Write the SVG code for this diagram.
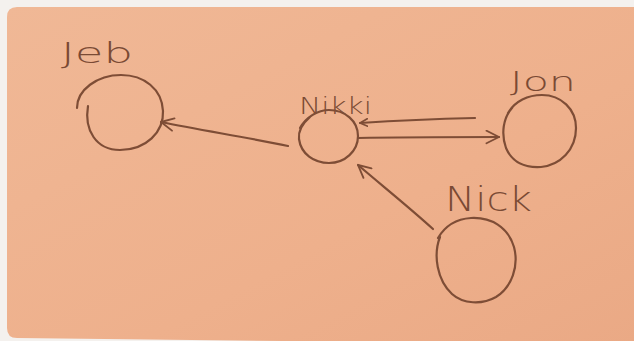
<svg xmlns="http://www.w3.org/2000/svg" width="634" height="341" viewBox="0 0 634 341">
  <defs>
    <linearGradient id="paper" x1="0" y1="0" x2="1" y2="1">
      <stop offset="0" stop-color="#f0b896"/>
      <stop offset="0.6" stop-color="#eeb08c"/>
      <stop offset="1" stop-color="#eaa985"/>
    </linearGradient>
    <marker id="head" viewBox="0 0 12 12" refX="11" refY="6" markerWidth="15" markerHeight="15" markerUnits="userSpaceOnUse" orient="auto-start-reverse">
      <path d="M1,1 L11,6 L1,11" fill="none" stroke="#7e4d36" stroke-width="1.5" stroke-linecap="round" stroke-linejoin="round"/>
    </marker>
    <marker id="headSmall" viewBox="0 0 12 12" refX="11" refY="6" markerWidth="9" markerHeight="9" markerUnits="userSpaceOnUse" orient="auto-start-reverse">
      <path d="M1,1 L11,6 L1,11" fill="none" stroke="#7e4d36" stroke-width="2.2" stroke-linecap="round" stroke-linejoin="round"/>
    </marker>
  </defs>
  <style>
    .ink { fill: none; stroke: #7e4d36; stroke-width: 2.2; stroke-linecap: round; stroke-linejoin: round; }
    .label { font-family: "DejaVu Sans", "Liberation Sans", sans-serif; font-weight: 200; fill: #7a4a34; }
  </style>

  <!-- background and sheet of paper -->
  <rect x="0" y="0" width="634" height="341" fill="#f4f1ee"/>
  <path d="M17,7 H640 V345 L17,338 Q7,338 7,328 V17 Q7,7 17,7 Z" fill="url(#paper)"/>

  <g id="node-jeb">
    <text class="label" x="61" y="63" font-size="29" textLength="72" lengthAdjust="spacingAndGlyphs">Jeb</text>
    <path class="ink" d="M88,106 C84,130 96,150 120,150 C146,150 164,132 163,111 C162,89 144,75 121,75 C97,75 77,90 77,108"/>
  </g>

  <g id="node-nikki">
    <text class="label" x="299" y="114" font-size="23" font-weight="300" textLength="73" lengthAdjust="spacingAndGlyphs">Nikki</text>
    <path class="ink" d="M310,117 C302,124 298,131 299,139 C301,154 314,163 329,163 C345,163 358,151 358,136 C358,121 345,110 329,110 C318,110 306,117 300,128"/>
  </g>

  <g id="node-jon">
    <text class="label" x="510" y="91" font-size="27" textLength="66" lengthAdjust="spacingAndGlyphs">Jon</text>
    <path class="ink" d="M512,108 C503,118 501,134 506,148 C512,162 525,168 541,167 C560,165 576,150 576,128 C576,109 561,95 542,95 C528,95 515,101 508,113"/>
  </g>

  <g id="node-nick">
    <text class="label" x="445" y="211" font-size="33" textLength="87" lengthAdjust="spacingAndGlyphs">Nick</text>
    <path class="ink" d="M440,237 C433,255 437,280 452,294 C463,304 482,305 496,297 C512,287 519,266 514,247 C508,227 491,217 471,218 C456,219 445,226 438,238"/>
  </g>

  <g id="connectors">
    <!-- Nikki to Jeb -->
    <path class="ink" d="M288,146 C250,138 200,130 161,122" marker-end="url(#head)"/>
    <!-- Jon to Nikki (upper line) -->
    <path class="ink" d="M475,118 C430,119 390,121 360,123" marker-end="url(#headSmall)"/>
    <!-- Nikki to Jon (lower line) -->
    <path class="ink" d="M358,138 C400,137 450,137 499,137" marker-end="url(#head)"/>
    <!-- Nick to Nikki -->
    <path class="ink" d="M433,229 C410,208 385,188 358,165" marker-end="url(#head)"/>
  </g>
</svg>
